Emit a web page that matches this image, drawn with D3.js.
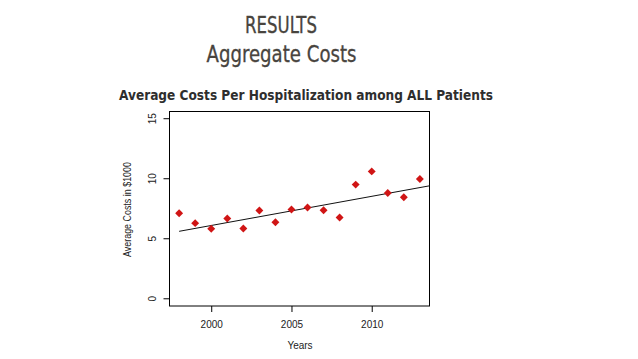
<!DOCTYPE html>
<html><head><meta charset="utf-8">
<script src="https://cdn.jsdelivr.net/npm/d3@7"></script>
<style>html,body{margin:0;padding:0;background:#fff;}svg{display:block;}</style>
</head><body>
<svg id="c" width="638" height="359"></svg>
<script>
const years = [1998,1999,2000,2001,2002,2003,2004,2005,2006,2007,2008,2009,2010,2011,2012,2013];
const costs = [7.13,6.30,5.83,6.69,5.86,7.35,6.38,7.44,7.60,7.38,6.77,9.51,10.61,8.81,8.46,9.98];
const trendX = [1998, 2013.6];
const trendY = [5.62, 9.41];
const xTicks = [2000,2005,2010];
const yTicks = [0,5,10,15];

const svg = d3.select("#c");
const x = d3.scaleLinear().domain([1997.4, 2013.6]).range([169.5, 429.5]);
const y = d3.scaleLinear().domain([-0.6, 15.6]).range([306, 111.5]);
const lab = "'Liberation Sans',Arial,Helvetica,sans-serif";

// titles
svg.append("text").attr("x", 281).attr("y", 33).attr("text-anchor","middle")
  .attr("font-family","'Liberation Sans Narrow','DejaVu Sans Condensed',sans-serif")
  .attr("font-size", 23).attr("fill","#48443e").attr("stroke","#48443e").attr("stroke-width",0.3)
  .attr("textLength",72).attr("lengthAdjust","spacingAndGlyphs")
  .text("RESULTS");
svg.append("text").attr("x", 281.5).attr("y", 62).attr("text-anchor","middle")
  .attr("font-family","'Liberation Sans Narrow','DejaVu Sans Condensed',sans-serif")
  .attr("font-size", 23).attr("fill","#48443e").attr("stroke","#48443e").attr("stroke-width",0.3)
  .attr("textLength",150).attr("lengthAdjust","spacingAndGlyphs")
  .text("Aggregate Costs");
svg.append("text").attr("x", 306).attr("y", 100).attr("text-anchor","middle")
  .attr("font-family","'DejaVu Sans',sans-serif").attr("font-weight","bold")
  .attr("font-size", 13.5).attr("fill","#2e2e2e").attr("textLength",374).attr("lengthAdjust","spacingAndGlyphs")
  .text("Average Costs Per Hospitalization among ALL Patients");

// box
svg.append("rect").attr("x", 169.5).attr("y", 111.5).attr("width", 260).attr("height", 194.5)
  .attr("fill","none").attr("stroke","#000").attr("stroke-width",1);

// x axis
const xa = svg.append("g").attr("transform","translate(0,306)")
  .call(d3.axisBottom(x).tickValues(xTicks).tickFormat(d3.format("d")).tickSize(6).tickPadding(9));
xa.select(".domain").remove();
xa.selectAll("text").attr("font-family",lab).attr("font-size",10).attr("fill","#222");

// y axis
const ya = svg.append("g").attr("transform","translate(169.5,0)")
  .call(d3.axisLeft(y).tickValues(yTicks).tickSize(6).tickPadding(0));
ya.select(".domain").remove();
ya.selectAll(".tick").attr("transform", null);
ya.selectAll(".tick line").each(function(d){ d3.select(this).attr("y1", y(d)).attr("y2", y(d)); });
ya.selectAll(".tick text").each(function(d){
  d3.select(this).attr("x",0).attr("y",0).attr("dy","0.35em").attr("text-anchor","middle")
    .attr("transform", `translate(-17,${y(d)}) rotate(-90)`);
}).attr("font-family",lab).attr("font-size",10).attr("fill","#222");

// axis labels
svg.append("text").attr("x", 300).attr("y", 349).attr("text-anchor","middle")
  .attr("font-family",lab).attr("font-size",10).attr("fill","#222").text("Years");
svg.append("text").attr("transform","translate(131,209.5) rotate(-90)").attr("text-anchor","middle")
  .attr("font-family",lab).attr("font-size",10.5).attr("fill","#222")
  .attr("textLength",95).attr("lengthAdjust","spacingAndGlyphs").text("Average Costs in $1000");

// trend line
svg.append("line").attr("x1", x(trendX[0])).attr("y1", y(trendY[0])).attr("x2", x(trendX[1])).attr("y2", y(trendY[1]))
  .attr("stroke","#111").attr("stroke-width",1);

// points
svg.append("g").selectAll("path").data(years).join("path")
  .attr("d", d3.symbol(d3.symbolDiamond2, 40)())
  .attr("transform", (d,i) => `translate(${x(d)},${y(costs[i])})`)
  .attr("fill","#d01515");
</script>
</body></html>
